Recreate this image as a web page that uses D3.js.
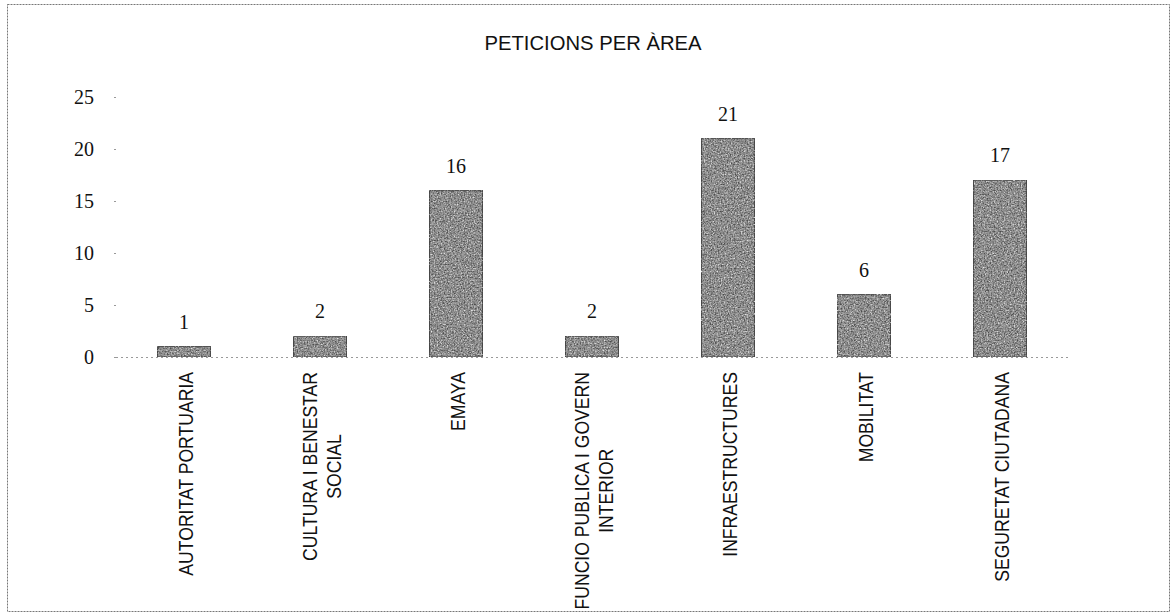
<!DOCTYPE html>
<html><head><meta charset="utf-8">
<script src="https://cdn.jsdelivr.net/npm/d3@7/dist/d3.min.js"></script>
<style>body{margin:0;background:#fff}svg{display:block}</style>
</head><body>
<svg id="c" width="1173" height="614"></svg>
<script>
const title = "PETICIONS PER ÀREA";
const categories = [
  ["AUTORITAT PORTUARIA"],
  ["CULTURA I BENESTAR", "SOCIAL"],
  ["EMAYA"],
  ["FUNCIO PUBLICA I GOVERN", "INTERIOR"],
  ["INFRAESTRUCTURES"],
  ["MOBILITAT"],
  ["SEGURETAT CIUTADANA"]
];
const values = [1, 2, 16, 2, 21, 6, 17];
const yTicks = [0, 5, 10, 15, 20, 25];

const svg = d3.select("#c");
const W = 1173, H = 614;
const m = {left: 116, right: 105, top: 97, bottom: 257};

// frame
svg.append("rect").attr("x", 7.5).attr("y", 4.5).attr("width", 1162).attr("height", 607)
  .attr("fill", "none").attr("stroke", "#777").attr("stroke-width", 1).attr("stroke-dasharray", "2,1");

// texture filter
const defs = svg.append("defs");
const f = defs.append("filter").attr("id", "tex").attr("x", 0).attr("y", 0).attr("width", 1).attr("height", 1)
  .attr("color-interpolation-filters", "sRGB");
f.append("feTurbulence").attr("type", "fractalNoise").attr("baseFrequency", 0.7).attr("numOctaves", 3).attr("seed", 5).attr("result", "n");
f.append("feColorMatrix").attr("in", "n").attr("type", "matrix")
  .attr("values", "0 0 0 0 0.3  0 0 0 0 0.3  0 0 0 0 0.3  3 0 0 0 -1.4").attr("result", "dk");
f.append("feColorMatrix").attr("in", "n").attr("type", "matrix")
  .attr("values", "0 0 0 0 0.92  0 0 0 0 0.92  0 0 0 0 0.92  -3 0 0 0 1.3").attr("result", "lt");
f.append("feComposite").attr("in", "dk").attr("in2", "SourceGraphic").attr("operator", "atop").attr("result", "a");
f.append("feComposite").attr("in", "lt").attr("in2", "a").attr("operator", "atop");

const x = d3.scaleBand().domain(d3.range(categories.length)).range([m.left, W - m.right]).paddingInner(0.61).paddingOuter(0.305);
const y = d3.scaleLinear().domain([0, 25]).range([H - m.bottom, m.top]);

svg.append("text").attr("x", 593).attr("y", 50).attr("text-anchor", "middle")
  .attr("font-family", "Liberation Sans, sans-serif").attr("font-size", 21).attr("fill", "#111")
  .attr("textLength", 217).attr("lengthAdjust", "spacingAndGlyphs")
  .text(title);

// y axis (ticks only)
const yAxis = d3.axisLeft(y).tickValues(yTicks).tickSize(2).tickPadding(20).tickFormat(d3.format("d"));
const ga = svg.append("g").attr("transform", `translate(${m.left},0)`).call(yAxis);
ga.select(".domain").remove();
ga.selectAll(".tick line").attr("stroke", "#999");
ga.selectAll(".tick text").attr("font-family", "Liberation Serif, DejaVu Serif, serif").attr("font-size", 20).attr("fill", "#111");

// baseline
svg.append("line").attr("x1", m.left).attr("x2", W - m.right).attr("y1", y(0) + 0.5).attr("y2", y(0) + 0.5)
  .attr("stroke", "#999").attr("stroke-dasharray", "2,3");

// bars
svg.append("g").selectAll("rect").data(values).join("rect")
  .attr("x", (d, i) => x(i)).attr("width", x.bandwidth())
  .attr("y", d => y(d)).attr("height", d => y(0) - y(d))
  .attr("fill", "#959595").attr("stroke", "#444").attr("stroke-width", 1)
  .attr("filter", "url(#tex)");

// value labels
svg.append("g").selectAll("text").data(values).join("text")
  .attr("x", (d, i) => x(i) + x.bandwidth() / 2).attr("y", d => y(d) - 18)
  .attr("text-anchor", "middle").attr("font-family", "Liberation Serif, DejaVu Serif, serif")
  .attr("font-size", 20).attr("fill", "#111").text(d => d);

// category labels
const lg = svg.append("g");
categories.forEach((lines, i) => {
  const cx = x(i) + x.bandwidth() / 2 + 2;
  const g = lg.append("g").attr("transform", `translate(${cx},372) rotate(-90) scale(0.88,1)`);
  const ts = lines.map((t, k) => g.append("text").attr("font-family", "Liberation Sans, sans-serif")
    .attr("font-size", 20).attr("fill", "#111").text(t));
  const widths = ts.map(t => t.node().getComputedTextLength());
  const maxW = d3.max(widths);
  const n = lines.length, lh = 24;
  ts.forEach((t, k) => {
    t.attr("text-anchor", "middle").attr("x", -maxW / 2)
     .attr("y", (k - (n - 1) / 2) * lh + 7);
  });
});
</script>
</body></html>
